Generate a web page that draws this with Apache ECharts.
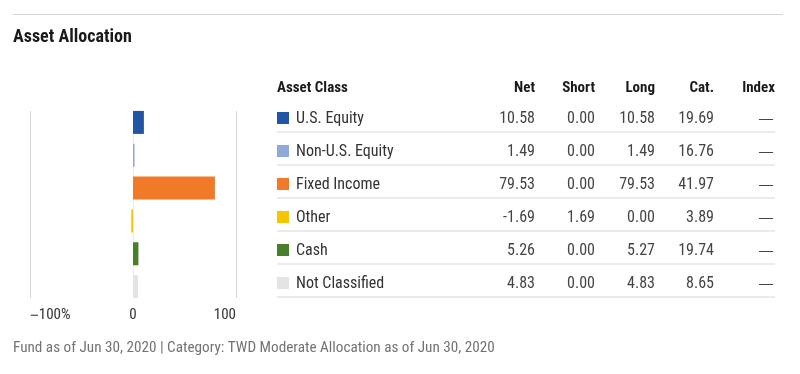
<!DOCTYPE html>
<html><head><meta charset="utf-8">
<script src="https://cdn.jsdelivr.net/npm/echarts@6/dist/echarts.min.js"></script>
<style>
html,body{margin:0;padding:0;background:#fff;}
#wrap{position:relative;width:800px;height:374px;overflow:hidden;font-family:"Roboto Condensed",Roboto,sans-serif;}
#chart{position:absolute;left:0;top:0;width:800px;height:374px;}
.t{position:absolute;white-space:nowrap;line-height:20px;height:20px;}
</style></head>
<body><div id="wrap"><div id="chart"></div></div>
<script>
var title = 'Asset Allocation';
var footnote = 'Fund as of Jun 30, 2020 | Category: TWD Moderate Allocation as of Jun 30, 2020';
var columns = ['Asset Class', 'Net', 'Short', 'Long', 'Cat.', 'Index'];
var categories = ['U.S. Equity', 'Non-U.S. Equity', 'Fixed Income', 'Other', 'Cash', 'Not Classified'];
var colors = ['#2155a5', '#8fa9d8', '#f07a27', '#f6c500', '#4a7f2a', '#e4e4e4'];
var netValues = [10.58, 1.49, 79.53, -1.69, 5.26, 4.83];
var shortValues = [0.00, 0.00, 0.00, 1.69, 0.00, 0.00];
var longValues = [10.58, 1.49, 79.53, 0.00, 5.27, 4.83];
var catValues = [19.69, 16.76, 41.97, 3.89, 19.74, 8.65];
var indexValues = ['—', '—', '—', '—', '—', '—'];
var tickLabels = {'-100': '{m|\u2212}100%', '0': '0', '100': '100'};

var FONT = '"Roboto Condensed", Roboto, sans-serif';
var chart = echarts.init(document.getElementById('chart'), null, {renderer: 'canvas'});
chart.setOption({
  animation: false,
  textStyle: {fontFamily: FONT},
  title: [
    {text: title, left: 13, top: 26, padding: 0,
     textStyle: {fontFamily: FONT, fontSize: 18, fontWeight: 'bold', color: '#1a1a1a', lineHeight: 22}},
    {text: footnote, left: 13, top: 339, padding: 0,
     textStyle: {fontFamily: FONT, fontSize: 15.2, fontWeight: 'normal', color: '#737373', lineHeight: 18}}
  ],
  graphic: [
    {type: 'line', shape: {x1: 13, y1: 14.5, x2: 783, y2: 14.5}, style: {stroke: '#d4d4d4', lineWidth: 1.2}, silent: true}
  ],
  grid: [
    {left: 30, width: 206, top: 106, height: 197},
    {left: 30, width: 206, top: 111, height: 187}
  ],
  xAxis: [
    {gridIndex: 0, type: 'value', min: -100, max: 100, interval: 100, show: false},
    {gridIndex: 1, type: 'value', min: -100, max: 100, interval: 100,
     axisLine: {show: false}, axisTick: {show: false},
     splitLine: {show: true, lineStyle: {color: ['#d6d6d6', '#ececec', '#d6d6d6'], width: 1}},
     axisLabel: {margin: 10, color: '#333', fontSize: 15, fontFamily: FONT,
       alignMinLabel: 'left', alignMaxLabel: 'right',
       rich: {m: {fontFamily: '"Liberation Sans", sans-serif', fontSize: 15, color: '#333'}},
       formatter: function (v) { return tickLabels[String(v)]; }}}
  ],
  yAxis: [
    {gridIndex: 0, type: 'category', data: categories, inverse: true, show: false},
    {gridIndex: 1, type: 'category', data: categories, inverse: true, show: false}
  ],
  series: [{
    type: 'bar', xAxisIndex: 0, yAxisIndex: 0, barWidth: 23, z: 5,
    data: netValues.map(function (v, i) { return {value: v, itemStyle: {color: colors[i]}}; })
  }]
});

// Table
var wrap = document.getElementById('wrap');
function addText(txt, x, yc, opts) {
  var d = document.createElement('div');
  d.className = 't';
  d.textContent = txt;
  d.style.top = (yc - 10) + 'px';
  d.style.fontSize = opts.size + 'px';
  d.style.color = opts.color;
  if (opts.font) d.style.fontFamily = opts.font;
  if (opts.bold) d.style.fontWeight = 'bold';
  if (opts.right) { d.style.right = (800 - x) + 'px'; d.style.textAlign = 'right'; }
  else d.style.left = x + 'px';
  wrap.appendChild(d);
}
var colRight = [null, 535, 595, 655, 714, 775];
var headerY = 87;
addText(columns[0], 277, headerY, {size: 15, bold: true, color: '#1a1a1a'});
for (var c = 1; c < columns.length; c++) addText(columns[c], colRight[c], headerY, {size: 15, bold: true, color: '#1a1a1a', right: true});
var rowY0 = 117.5, rowH = 33;
function fmt(v) { return typeof v === 'number' ? v.toFixed(2) : v; }
categories.forEach(function (name, i) {
  var yc = rowY0 + i * rowH;
  var sw = document.createElement('div');
  sw.style.cssText = 'position:absolute;left:277px;top:' + (yc - 6) + 'px;width:12px;height:12px;background:' + colors[i];
  wrap.appendChild(sw);
  addText(name, 296, yc, {size: 16, color: '#333'});
  var vals = [netValues[i], shortValues[i], longValues[i], catValues[i]];
  vals.forEach(function (v, k) { addText(fmt(v), colRight[k + 1], yc, {size: 16, color: '#444', right: true}); });
  addText(indexValues[i], colRight[5] - 2, yc, {size: 14, color: '#444', right: true, font: '"Liberation Sans", sans-serif'});
  var ln = document.createElement('div');
  ln.style.cssText = 'position:absolute;left:277px;width:498px;height:1.5px;background:#ebebeb;top:' + (yc + 13.5) + 'px';
  wrap.appendChild(ln);
});
</script></body></html>
